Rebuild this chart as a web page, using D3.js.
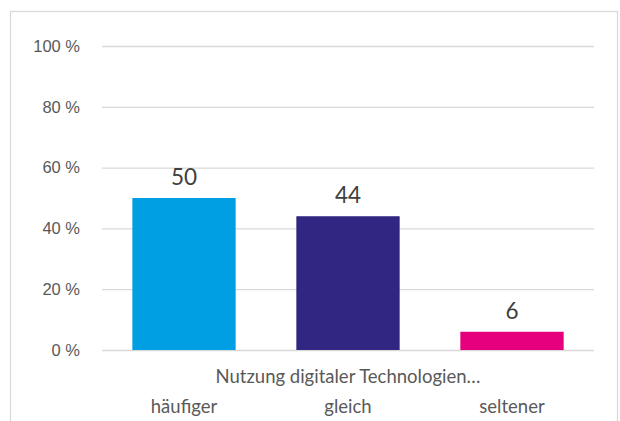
<!DOCTYPE html>
<html>
<head>
<meta charset="utf-8">
<script src="https://cdn.jsdelivr.net/npm/d3@7"></script>
<style>
  body { margin: 0; background: #fff; }
  svg { display: block; font-family: Lato, "Open Sans", sans-serif; }
</style>
</head>
<body>
<div id="chart"></div>
<script>
// chart data
const categories = ["häufiger", "gleich", "seltener"];
const values = [50, 44, 6];
const colors = ["#009FE3", "#312783", "#E6007E"];
const yTicks = [0, 20, 40, 60, 80, 100];
const axisTitle = "Nutzung digitaler Technologien…";

const width = 620, height = 421;
const margin = { top: 46, right: 26, bottom: 71, left: 102 };

const svg = d3.select("#chart").append("svg")
    .attr("width", width)
    .attr("height", height);

// outer frame
svg.append("rect")
    .attr("x", 10.5).attr("y", 11.5)
    .attr("width", 607).attr("height", 420)
    .attr("fill", "none")
    .attr("stroke", "#d9d9d9")
    .attr("stroke-width", 1.3);

const x = d3.scaleBand()
    .domain(categories)
    .range([margin.left, width - margin.right])
    .paddingInner(0.37)
    .paddingOuter(0.185);

const y = d3.scaleLinear()
    .domain([0, 100])
    .range([height - margin.bottom, margin.top]);

// gridlines + y labels
const yAxis = svg.append("g")
    .attr("transform", `translate(${margin.left},0)`)
    .call(d3.axisLeft(y)
        .tickValues(yTicks)
        .tickSize(-(width - margin.left - margin.right))
        .tickPadding(22)
        .tickFormat(d => d + " %"));
yAxis.select(".domain").remove();
yAxis.selectAll(".tick line")
    .attr("stroke", "#d9d9d9")
    .attr("stroke-width", 1.3);
yAxis.selectAll(".tick text")
    .attr("fill", "#595959")
    .attr("font-size", "16.5px");

// bars
svg.append("g")
    .selectAll("rect")
    .data(values)
    .enter().append("rect")
    .attr("x", (d, i) => x(categories[i]))
    .attr("y", d => y(d))
    .attr("width", x.bandwidth())
    .attr("height", d => y(0) - y(d))
    .attr("fill", (d, i) => colors[i]);

// data labels
svg.append("g")
    .selectAll("text")
    .data(values)
    .enter().append("text")
    .attr("x", (d, i) => x(categories[i]) + x.bandwidth() / 2)
    .attr("y", d => y(d) - 13)
    .attr("text-anchor", "middle")
    .attr("fill", "#404040")
    .attr("font-size", "22.5px")
    .text(d => d);

// axis title (first line of category labels)
svg.append("text")
    .attr("x", (margin.left + width - margin.right) / 2)
    .attr("y", 383)
    .attr("text-anchor", "middle")
    .attr("fill", "#595959")
    .attr("font-size", "18.5px")
    .text(axisTitle);

// category labels
svg.append("g")
    .selectAll("text")
    .data(categories)
    .enter().append("text")
    .attr("x", d => x(d) + x.bandwidth() / 2)
    .attr("y", 413)
    .attr("text-anchor", "middle")
    .attr("fill", "#595959")
    .attr("font-size", "18.5px")
    .text(d => d);
</script>
</body>
</html>
